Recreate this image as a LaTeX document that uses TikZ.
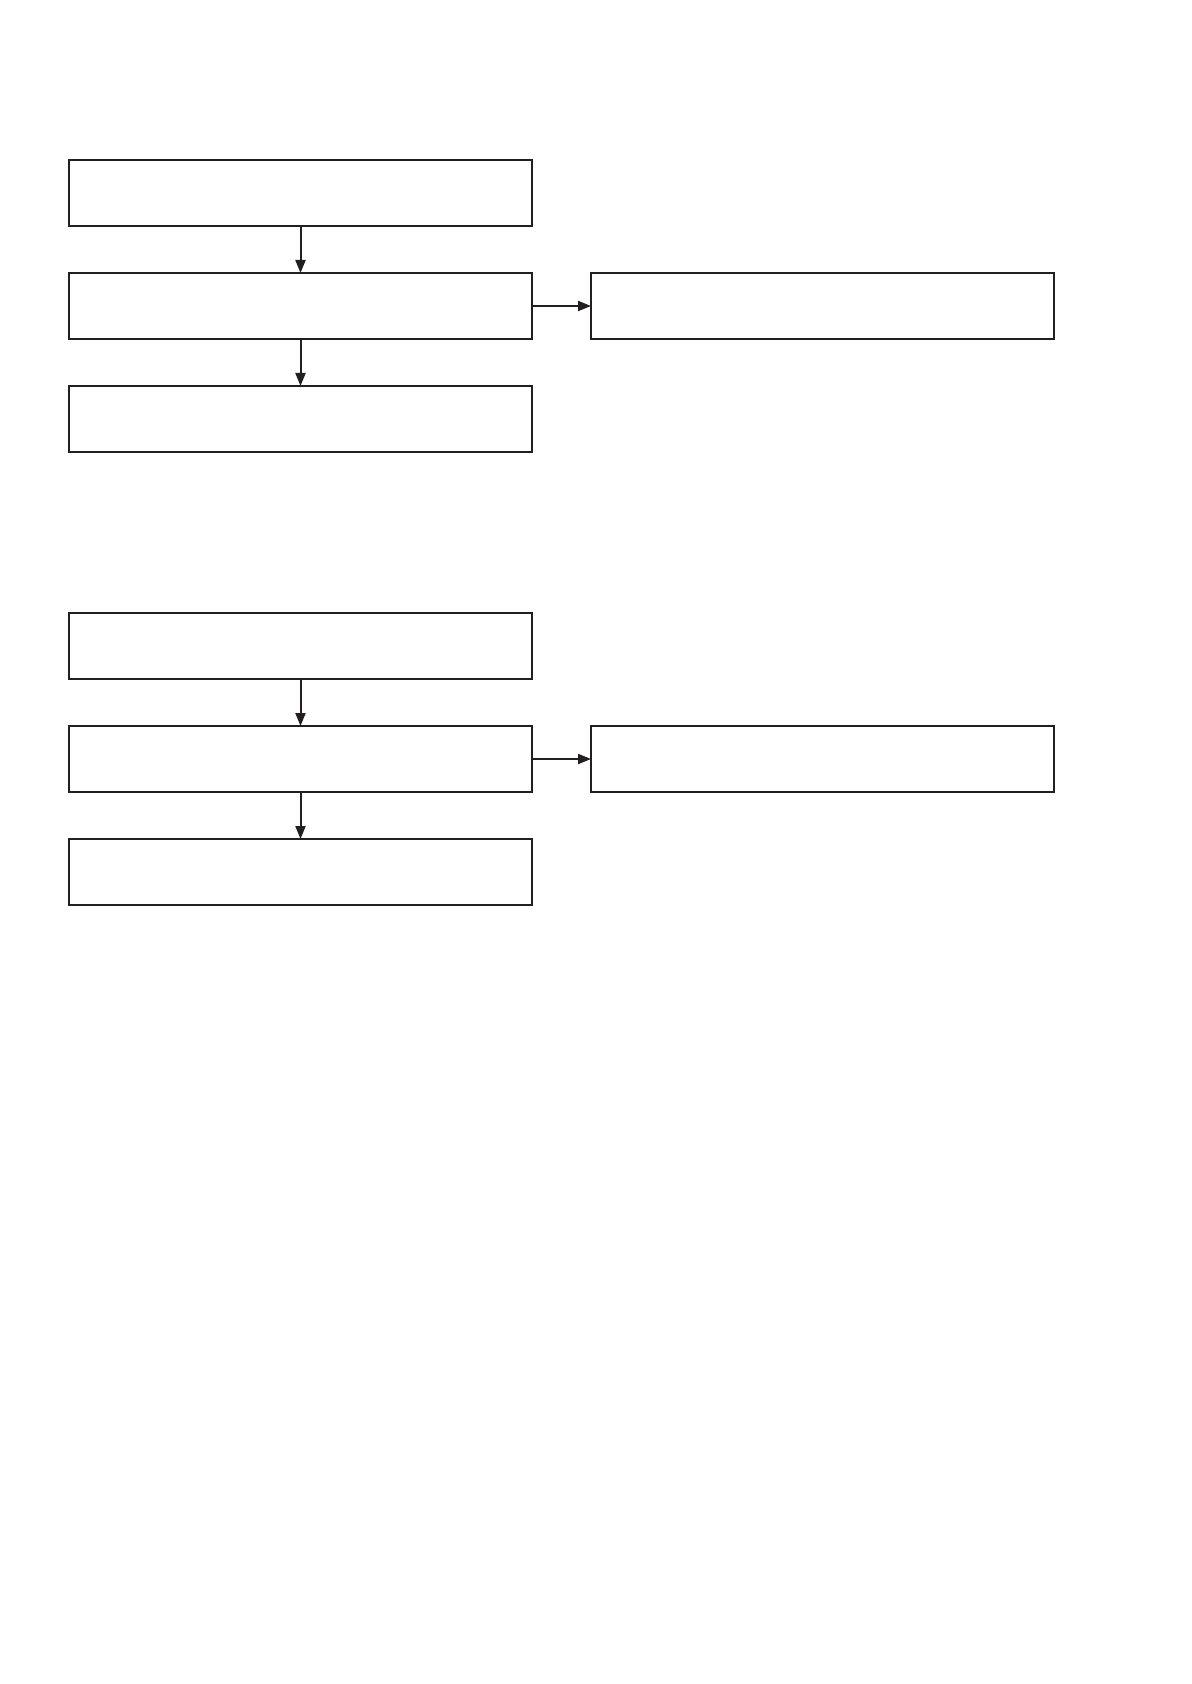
\documentclass[tikz,border=0pt]{standalone}
\usepackage{tikz}
\usetikzlibrary{positioning,arrows.meta}
\definecolor{inkgray}{HTML}{231F20}

\begin{document}
\begin{tikzpicture}[
    flowbox/.style={draw=inkgray, line width=0.8pt, minimum width=231.5pt, minimum height=33pt, inner sep=0pt, outer sep=0pt},
    flowarrow/.style={draw=inkgray, line width=1pt, -{Triangle[length=6.5pt,width=5pt]}}
  ]
      \useasboundingbox (0,0) rectangle (595.5pt,-842pt);

      \foreach \g/\y in {1/-80pt, 2/-306.5pt} {
        \node[flowbox, anchor=north west] (first\g) at (34.5pt,\y) {};
        \node[flowbox, below=23.5pt of first\g] (second\g) {};
        \node[flowbox, below=23.5pt of second\g] (third\g) {};
        \node[flowbox, right=29.5pt of second\g] (side\g) {};

        \draw[flowarrow] (first\g) -- (second\g);
        \draw[flowarrow] (second\g) -- (third\g);
        \draw[flowarrow] (second\g) -- (side\g);
      }
    \end{tikzpicture}
\end{document}
